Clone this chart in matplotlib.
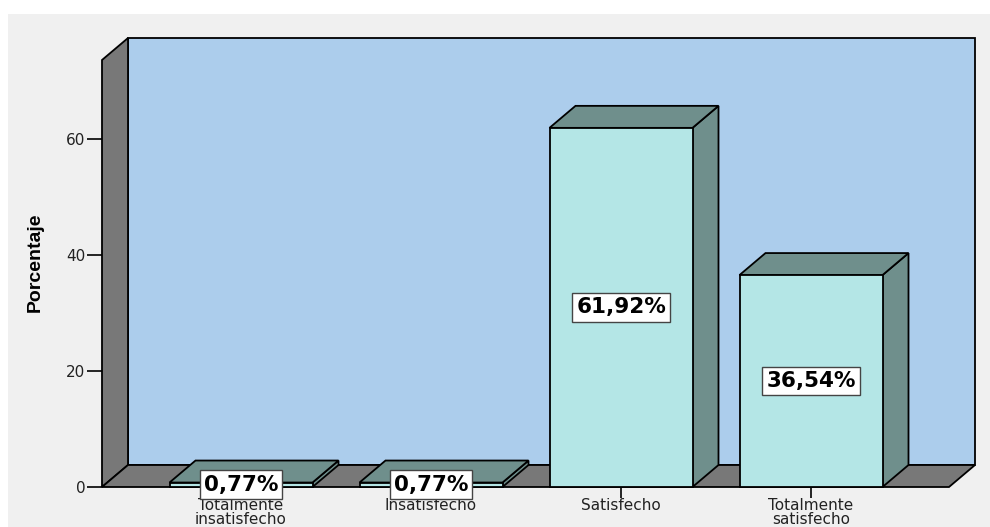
import matplotlib.pyplot as plt
from matplotlib.patches import Polygon, Rectangle

# datos
categorias = ['Totalmente\ninsatisfecho', 'Insatisfecho', 'Satisfecho', 'Totalmente\nsatisfecho']
porcentajes = [0.77, 0.77, 61.92, 36.54]
etiquetas = ['0,77%', '0,77%', '61,92%', '36,54%']
yticks = [0, 20, 40, 60]

# colores estilo SPSS
c_fondo = '#f0f0f0'
c_pared = '#accdec'
c_gris = '#787878'
c_frente = '#b4e6e6'
c_lado = '#6f8f8c'

W, H = 990, 527
fig = plt.figure(figsize=(W / 100, H / 100), dpi=100, facecolor='white')
fig.patches.append(Rectangle((8 / W, 0), 1, (H - 14) / H, transform=fig.transFigure,
                             facecolor=c_fondo, edgecolor='none', zorder=-10))

ax = fig.add_axes([102 / W, (H - 487) / H, (975 - 102) / W, (487 - 38) / H])
ax.set_facecolor('none')

# escala: 190 px por categoria, 5.8 px por punto porcentual
xl, xr = (102 - 241) / 190, (975 - 241) / 190
ytop = (487 - 38) / 5.8
dx, dy = 26 / 190, 22 / 5.8
ancho = 143 / 190
ax.set_xlim(xl, xr)
ax.set_ylim(0, ytop)

lw = 1.3
kw = dict(edgecolor='black', linewidth=lw, joinstyle='miter', clip_on=False)
# pared del fondo
ax.add_patch(Polygon([(xl + dx, dy), (xr, dy), (xr, ytop), (xl + dx, ytop)],
                     facecolor=c_pared, zorder=1, **kw))
# pared izquierda
ax.add_patch(Polygon([(xl, 0), (xl, ytop - dy), (xl + dx, ytop), (xl + dx, dy)],
                     facecolor=c_gris, zorder=2, **kw))
# piso
ax.add_patch(Polygon([(xl, 0), (xr - dx, 0), (xr, dy), (xl + dx, dy)],
                     facecolor=c_gris, zorder=2, **kw))

# barras 3D
for i, v in enumerate(porcentajes):
    x0, x1 = i - ancho / 2, i + ancho / 2
    ax.add_patch(Polygon([(x1, 0), (x1 + dx, dy), (x1 + dx, v + dy), (x1, v)],
                         facecolor=c_lado, zorder=3, **kw))
    ax.add_patch(Polygon([(x0, v), (x1, v), (x1 + dx, v + dy), (x0 + dx, v + dy)],
                         facecolor=c_lado, zorder=3, **kw))
    ax.add_patch(Rectangle((x0, 0), ancho, v, facecolor=c_frente, zorder=4, **kw))
    ax.text(i, v / 2, etiquetas[i], ha='center', va='center', fontsize=15.5,
            fontweight='bold', zorder=6,
            bbox=dict(boxstyle='square,pad=0.2', facecolor='white',
                      edgecolor='#444444', linewidth=1))

for s in ax.spines.values():
    s.set_visible(False)
ax.set_yticks(yticks)
ax.set_xticks(range(len(categorias)))
ax.set_xticklabels(categorias, fontsize=11, color='#222222', linespacing=0.9)
ax.tick_params(axis='y', length=11, width=1.2, pad=1, labelsize=11,
               labelcolor='#222222')
ax.tick_params(axis='x', length=8, width=1.2, pad=0)
ax.set_ylabel('Porcentaje', family='Liberation Sans', fontsize=14,
              fontweight='bold', labelpad=16)

fig.savefig('out.png', dpi=100, facecolor='white')
